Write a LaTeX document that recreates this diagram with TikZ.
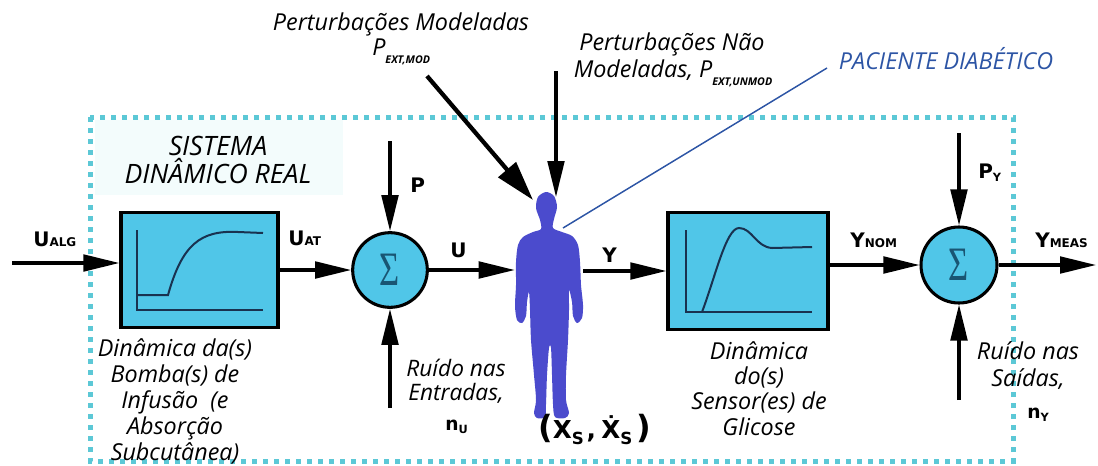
\documentclass[tikz,border=0pt]{standalone}
\usepackage{fontspec}
\usepackage{graphicx}
\setmainfont{Open Sans}
\newfontfamily\lblfont{DejaVu Sans}
\newfontfamily\sigfont{Liberation Serif}
\usetikzlibrary{arrows.meta,calc}

\definecolor{boxcyan}{RGB}{80,198,232}
\definecolor{framecol}{RGB}{92,200,214}
\definecolor{curvecol}{RGB}{25,50,80}
\definecolor{sigmacol}{RGB}{25,85,115}
\definecolor{bodyblue}{RGB}{75,75,205}
\definecolor{patblue}{RGB}{45,85,165}
\definecolor{haze}{RGB}{243,252,252}

% bold variable label: main letter plus baseline-level index
\newcommand{\var}[2]{{\lblfont\bfseries\fontsize{15}{15}\selectfont #1}{\lblfont\bfseries\fontsize{9}{9}\selectfont #2}}
\newcommand{\lowvar}[3]{{\lblfont\bfseries\fontsize{#3}{#3}\selectfont #1}\raisebox{-2.5pt}{\lblfont\bfseries\fontsize{8.5}{8.5}\selectfont #2}}
\newcommand{\extidx}[1]{\raisebox{-6pt}{\fontsize{8}{8}\selectfont\itshape\bfseries #1}}
\newcommand{\sumsign}{\scalebox{0.72}[1]{\sigfont\fontsize{36}{36}\selectfont Σ}}

\tikzset{
  arr/.style={draw=black, line width=2.3pt, -{Triangle[length=27pt,width=12.5pt]}},
  blockbox/.style={draw=black, line width=2.5pt, fill=boxcyan, inner sep=0pt},
  sumnode/.style={circle, draw=black, line width=2.3pt, fill=boxcyan, inner sep=0pt, minimum size=56pt},
  lbl/.style={inner sep=0pt, anchor=base west},
  itx/.style={inner sep=0pt, align=center, font=\fontsize{17.5}{20}\selectfont\itshape},
  curve/.style={draw=curvecol, line width=1.5pt},
}

\begin{document}
\begin{tikzpicture}[x=0.75pt, y=-0.75pt]
\useasboundingbox (0,0) rectangle (1098,465);

% faint highlight behind the system title and the dotted system frame
\fill[haze] (95,120) rectangle (343,195);
\draw[framecol, line width=3.75pt, dash pattern=on 3.75pt off 4.5pt] (90,117) rectangle (1013,461);

% blocks
\node[blockbox, minimum width=117.75pt, minimum height=86.25pt] (pump) at (199.5,270) {};
\node[blockbox, minimum width=120pt, minimum height=87.75pt] (sen) at (748,271) {};
\node[sumnode] (sum1) at (390,270) {};
\node[sumnode, minimum size=57pt] (sum2) at (959,265) {};
\node[inner sep=0pt, minimum width=51pt, minimum height=169.5pt] (pac) at (549,305) {};

% step responses inside the blocks
\draw[curve] (137,230) -- (137,310) -- (263,310);
\draw[curve] (137,295) -- (168,295) .. controls (182,245) and (200,230) .. (238,232) .. controls (250,233) .. (263,233);
\draw[curve] (686,230) -- (686,312) -- (812,312);
\draw[curve] (702,312) .. controls (715,278) and (726,228) .. (739,228) .. controls (752,228) and (756,247) .. (772,248) -- (812,247);

% summation signs
\node[text=sigmacol, inner sep=0pt] (sig1) at (sum1) {\sumsign};
\node[text=sigmacol, inner sep=0pt] (sig2) at (sum2) {\sumsign};

% patient silhouette
\fill[bodyblue] plot[smooth cycle, tension=0.5] coordinates {
  (546,192) (554,196) (557,207) (554,219) (553,228) (562,232) (572,236)
  (578,245) (580,262) (581,285) (583,305) (582,318) (577,323) (573,316)
  (572,302) (569,290) (569,310) (568,340) (566,375) (566,400) (569,413)
  (565,418) (555,417) (553,404) (552,375) (551,348) (549,348) (547,375)
  (546,404) (545,417) (537,418) (534,413) (536,400) (534,375) (531,340)
  (530,310) (529,292) (527,302) (526,316) (522,323) (517,320) (515,306)
  (516,285) (516,262) (518,245) (523,237) (533,232) (541,229) (540,220)
  (536,208) (538,197)};

% free ends of connectors
\coordinate (inL) at (12,263);
\coordinate (outR) at (1096,265);
\coordinate (pTop) at (390,141);
\coordinate (nuBot) at (390,408);
\coordinate (pyTop) at (959,133);
\coordinate (nyBot) at (959,400);
\coordinate (pmTail) at (427,76);
\coordinate (headL) at (533,200);
\coordinate (puTail) at (556,71);
\coordinate (headR) at (556,197);
\coordinate (patEnd) at (827,68);
\coordinate (chest) at (563,228);

% signal flow
\draw[arr] (inL) -- (inL -| pump.west);
\draw[arr] (pump.east) -- (sum1.west);
\draw[arr] (pTop) -- (sum1.north);
\draw[arr] (nuBot) -- (sum1.south);
\draw[arr] (sum1.east) -- (sum1 -| pac.west);
\draw[arr] (pac.east |- sen) -- (sen.west);
\draw[arr] (sen.east |- sum2) -- (sum2.west);
\draw[arr] (sum2.east) -- (outR);
\draw[arr] (pyTop) -- (sum2.north);
\draw[arr] (nyBot) -- (sum2.south);
\draw[arr, line width=3.2pt, -{Triangle[length=30pt,width=17pt]}] (pmTail) -- (headL);
\draw[arr] (puTail) -- (headR);
\draw[patblue, line width=1.1pt] (patEnd) -- (chest);

% signal labels
\node[lbl] (lualg) at (33,246) {\var{U}{ALG}};
\node[lbl] (luat) at (288,245) {\var{U}{AT}};
\node[lbl] (lp) at (410,192) {\var{P}{}};
\node[lbl] (lu) at (450,257) {\var{U}{}};
\node[lbl] (ly) at (602,262) {\var{Y}{}};
\node[lbl] (lynom) at (850,247) {\var{Y}{NOM}};
\node[lbl] (lymeas) at (1035,247) {\var{Y}{MEAS}};
\node[lbl] (lpy) at (978,178) {\lowvar{P}{Y}{15}};
\node[lbl] (lnu) at (445,430) {\lowvar{n}{U}{14}};
\node[lbl] (lny) at (1027,418) {\lowvar{n}{Y}{14}};
\node[lbl] (lxs) at (538,438) {\lblfont\bfseries\fontsize{18.5}{18.5}\selectfont{\fontsize{24}{24}\selectfont(}X\raisebox{-4.5pt}{\fontsize{12.5}{12.5}\selectfont S}\kern2pt,\kern4pt\.{X}\raisebox{-4.5pt}{\fontsize{12.5}{12.5}\selectfont S}\kern3pt{\fontsize{24}{24}\selectfont)}};

% titles and descriptions
\node[itx, anchor=base] (pmod) at (401,30) {Perturbações Modeladas};
\node[itx, anchor=base west] (pmodv) at (372,55) {P\extidx{EXT,MOD}};
\node[itx, anchor=base] (pun1) at (672,50) {Perturbações Não};
\node[itx, anchor=base] (pun2) at (673,77) {Modeladas, P\extidx{EXT,UNMOD}};
\node[itx, anchor=base, text=patblue] (patl) at (946,69) {PACIENTE DIABÉTICO};
\node[itx, anchor=base, font=\fontsize{20}{22}\selectfont\itshape] (sys1) at (218,155) {SISTEMA};
\node[itx, anchor=base, font=\fontsize{20}{22}\selectfont\itshape] (sys2) at (218,183) {DINÂMICO REAL};
\node[itx, anchor=north, font=\fontsize{17.5}{19.5}\selectfont\itshape] (dpump) at (175,338) {Dinâmica da(s)\\Bomba(s) de\\Infusão~~(e\\Absorção\\Subcutânea)};
\node[itx, anchor=north, font=\fontsize{17}{18}\selectfont\itshape] (nin) at (456,359) {Ruído nas\\Entradas,};
\node[itx, anchor=north, font=\fontsize{17.5}{19}\selectfont\itshape] (dsen) at (759,341) {Dinâmica\\do(s)\\Sensor(es) de\\Glicose};
\node[itx, anchor=north, font=\fontsize{17.5}{20.5}\selectfont\itshape] (nout) at (1028,341) {Ruído nas\\Saídas,};
\end{tikzpicture}
\end{document}
